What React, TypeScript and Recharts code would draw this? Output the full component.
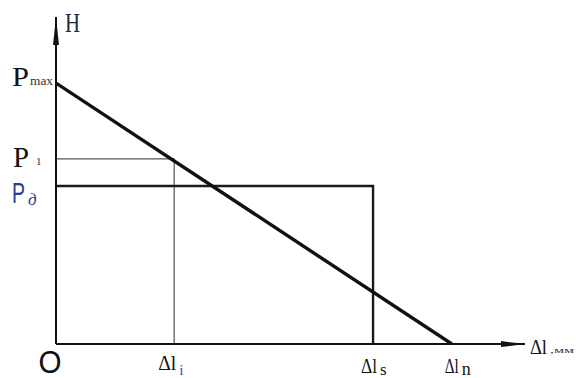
import React from 'react';
import { ComposedChart, Line, XAxis, YAxis, ReferenceDot } from 'recharts';

// Axis extents (arbitrary units)
const X_MAX = 100;
const Y_MAX = 100;

// Characteristic displacements along the Δl axis
const dlI = 25.2;   // Δl_i
const dlS = 67.6;   // Δl_s
const dlN = 84.4;   // Δl_n

// Characteristic force levels along the H axis
const pMax = 79.8;  // P_max
const p1 = 56.6;    // P_1
const pD = 48.3;    // P_д

const xTicks = [0, dlI, dlS, dlN];
const yTicks = [pD, p1, pMax];

// Falling characteristic from P_max to Δl_n
const loadLine = [
  { x: 0, y: pMax },
  { x: dlN, y: 0 },
];

// Thin guide from P_1 to Δl_i
const p1Guide = [
  { x: 0, y: p1 },
  { x: dlI, y: p1 },
  { x: dlI, y: 0 },
];

// Working level P_д up to Δl_s
const pDFrame = [
  { x: 0, y: pD },
  { x: dlS, y: pD },
  { x: dlS, y: 0 },
];

const SERIF = '"Liberation Serif", "DejaVu Serif", serif';
const SANS = '"Liberation Sans", Arial, sans-serif';
const INK = '#111';
const BLUE = '#24408f';

// Per-tick layout of the Δl labels (offsets from the tick position)
const xLabelLayout = [
  null,
  { dx: -16, len: 18, base: 26, sub: 'i', subDx: 5, subBase: 31, subFill: '#2a55c0', subSize: 15 },
  { dx: -12, len: 16, base: 29, sub: 's', subDx: 7, subBase: 31, subFill: INK, subSize: 17 },
  { dx: -7, len: 14, base: 29, sub: 'n', subDx: 10, subBase: 31, subFill: INK, subSize: 18 },
];

const XTick = (props: any) => {
  const { x, y, index } = props;
  if (index === 0) {
    return (
      <text x={x - 6} y={y + 29} textAnchor="middle" fontFamily={SANS} fontSize={32}
        textLength={23} lengthAdjust="spacingAndGlyphs" fill={INK}>O</text>
    );
  }
  const cfg = xLabelLayout[index] as any;
  return (
    <g>
      <text x={x + cfg.dx} y={y + cfg.base} fontFamily={SERIF} fontSize={22}
        textLength={cfg.len} lengthAdjust="spacingAndGlyphs" fill={INK}>Δl</text>
      <text x={x + cfg.subDx} y={y + cfg.subBase} fontFamily={SERIF} fontSize={cfg.subSize}
        fill={cfg.subFill}>{cfg.sub}</text>
    </g>
  );
};

const YTick = (props: any) => {
  const { x, y, index } = props;
  if (index === 0) {
    // P_д
    return (
      <g>
        <text x={x - 44} y={y + 17} fontFamily={SANS} fontSize={29} textLength={13}
          lengthAdjust="spacingAndGlyphs" fill={BLUE}>P</text>
        <text x={x - 28} y={y + 19} fontFamily={SERIF} fontStyle="italic" fontSize={17}
          fill={BLUE}>д</text>
      </g>
    );
  }
  if (index === 1) {
    // P_1
    return (
      <g>
        <text x={x - 43} y={y + 8} fontFamily={SERIF} fontSize={30} textLength={16}
          lengthAdjust="spacingAndGlyphs" fill={INK}>P</text>
        <text x={x - 20} y={y + 6} fontFamily={SERIF} fontSize={11} fill="#333">1</text>
      </g>
    );
  }
  // P_max
  return (
    <g>
      <text x={x - 44} y={y + 3} fontFamily={SERIF} fontSize={27} textLength={17}
        lengthAdjust="spacingAndGlyphs" fill={INK}>P</text>
      <text x={x - 26} y={y + 2} fontFamily={SERIF} fontSize={12} textLength={23}
        lengthAdjust="spacingAndGlyphs" fill="#333">max</text>
    </g>
  );
};

const XAxisTitle = (props: any) => {
  const vb = props.viewBox;
  const x0 = vb.x + vb.width + 5;
  const y0 = vb.y + 10;
  return (
    <g>
      <text x={x0} y={y0} fontFamily={SERIF} fontSize={21} textLength={17}
        lengthAdjust="spacingAndGlyphs" fill={INK}>Δl</text>
      <text x={x0 + 20} y={y0 - 1} fontFamily={SERIF} fontSize={9} textLength={24}
        lengthAdjust="spacingAndGlyphs" fill="#333">,мм</text>
    </g>
  );
};

const YAxisTitle = (props: any) => {
  const vb = props.viewBox;
  return (
    <text x={vb.x + vb.width + 9} y={vb.y + 15} fontFamily={SERIF} fontSize={27}
      textLength={15} lengthAdjust="spacingAndGlyphs" fill="#1a2a40">H</text>
  );
};

const ArrowRight = (props: any) => {
  const { cx, cy } = props;
  return <path d={`M${cx},${cy} L${cx - 24},${cy - 3} L${cx - 24},${cy + 3} Z`} fill={INK} />;
};

const ArrowUp = (props: any) => {
  const { cx, cy } = props;
  return <path d={`M${cx},${cy} L${cx - 3},${cy + 28} L${cx + 3},${cy + 28} Z`} fill={INK} />;
};

export default function App() {
  return (
    <div style={{ position: 'fixed', left: 0, top: 0, width: 576, height: 378, background: '#fff' }}>
      <ComposedChart width={576} height={378} margin={{ top: 17, right: 51, bottom: 0, left: 0 }}>
        <XAxis
          type="number"
          dataKey="x"
          domain={[0, X_MAX]}
          ticks={xTicks}
          interval={0}
          tickLine={false}
          tickSize={0}
          tickMargin={0}
          height={34}
          axisLine={{ stroke: INK, strokeWidth: 2 }}
          tick={<XTick />}
          label={<XAxisTitle />}
          allowDataOverflow
        />
        <YAxis
          type="number"
          dataKey="y"
          domain={[0, Y_MAX]}
          ticks={yTicks}
          interval={0}
          tickLine={false}
          tickSize={0}
          tickMargin={0}
          width={56}
          axisLine={{ stroke: INK, strokeWidth: 2 }}
          tick={<YTick />}
          label={<YAxisTitle />}
          allowDataOverflow
        />
        <Line data={p1Guide} dataKey="y" type="linear" stroke="#555" strokeWidth={1.2}
          dot={false} activeDot={false} isAnimationActive={false} />
        <Line data={pDFrame} dataKey="y" type="linear" stroke="#1a1a1a" strokeWidth={2.4}
          dot={false} activeDot={false} isAnimationActive={false} />
        <Line data={loadLine} dataKey="y" type="linear" stroke={INK} strokeWidth={3.4}
          dot={false} activeDot={false} isAnimationActive={false} />
        <ReferenceDot x={X_MAX} y={0} r={0} ifOverflow="visible" shape={<ArrowRight />} />
        <ReferenceDot x={0} y={Y_MAX} r={0} ifOverflow="visible" shape={<ArrowUp />} />
      </ComposedChart>
    </div>
  );
}
